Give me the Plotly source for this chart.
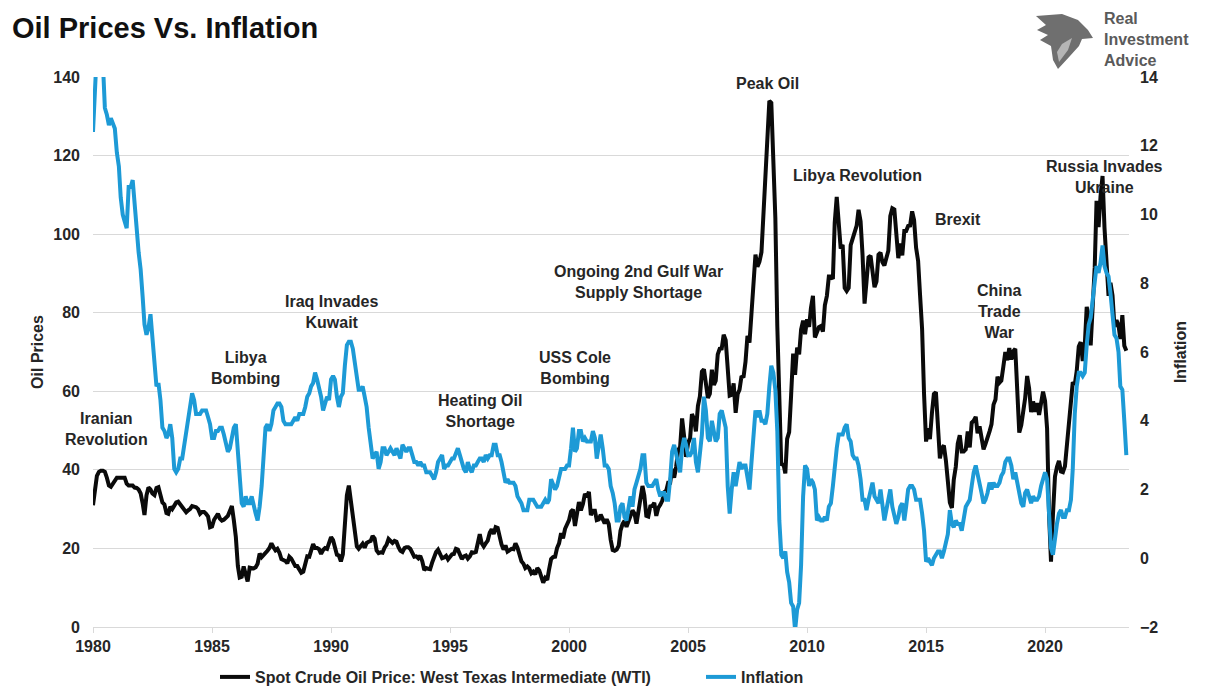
import pandas as pd
import plotly.graph_objects as go

# ---------------- DATA (monthly, Jan 1980 - Jun 2023) ----------------
start_month = "1980-01-01"

wti_price = [
    31.0, 35.0, 38.5, 39.5, 39.8, 39.8, 39.5, 38.0, 36.0, 35.7, 36.5, 37.5,   # 1980
    38.0, 38.0, 38.0, 38.0, 38.0, 36.5, 36.0, 36.0, 36.0, 35.5, 35.4, 35.0,   # 1981
    34.0, 31.5, 28.5, 33.5, 35.5, 35.0, 34.0, 33.6, 35.4, 35.6, 34.0, 31.7,   # 1982
    31.2, 29.0, 28.8, 30.6, 30.0, 31.0, 31.7, 31.9, 31.1, 30.4, 29.8, 29.2,   # 1983
    29.7, 30.1, 30.8, 30.6, 30.5, 30.0, 28.8, 29.3, 29.3, 28.8, 28.1, 25.4,   # 1984
    25.6, 27.3, 28.2, 28.8, 27.6, 27.1, 27.3, 27.8, 28.3, 29.5, 30.8, 27.2,   # 1985
    22.9, 15.5, 12.6, 12.8, 15.4, 13.4, 11.6, 15.1, 14.9, 14.9, 15.2, 16.1,   # 1986
    18.7, 17.8, 18.3, 18.7, 19.4, 20.1, 21.3, 20.3, 19.5, 19.9, 18.9, 17.3,   # 1987
    17.1, 16.8, 16.2, 17.9, 17.4, 16.5, 15.5, 15.5, 14.5, 13.8, 14.1, 16.4,   # 1988
    18.0, 17.9, 19.5, 21.1, 20.1, 20.1, 19.8, 18.6, 19.6, 20.1, 19.9, 21.1,   # 1989
    22.9, 22.1, 20.4, 18.4, 18.2, 16.7, 18.5, 27.3, 33.5, 36.0, 32.3, 27.3,   # 1990
    25.2, 20.5, 19.9, 20.8, 21.2, 20.2, 21.4, 21.7, 21.9, 23.2, 22.5, 19.5,   # 1991
    18.8, 19.0, 18.9, 20.2, 20.9, 22.4, 21.8, 21.4, 21.9, 21.7, 20.3, 19.4,   # 1992
    19.1, 20.1, 20.3, 20.3, 19.9, 19.1, 17.9, 18.0, 17.5, 18.1, 16.7, 14.5,   # 1993
    15.0, 14.8, 14.7, 16.4, 17.9, 19.1, 19.7, 18.4, 17.5, 17.7, 18.1, 17.2,   # 1994
    18.0, 18.5, 18.6, 19.9, 19.7, 18.4, 17.3, 18.0, 18.2, 17.4, 18.0, 19.0,   # 1995
    18.9, 19.1, 21.4, 23.6, 21.3, 20.5, 21.3, 22.0, 24.0, 24.9, 23.7, 25.4,   # 1996
    25.2, 22.2, 21.0, 19.7, 20.8, 19.2, 19.6, 19.9, 19.8, 21.3, 20.2, 18.3,   # 1997
    16.7, 16.1, 15.0, 15.4, 14.9, 13.7, 14.1, 13.4, 15.0, 14.4, 12.9, 11.3,   # 1998
    12.5, 12.0, 14.7, 17.3, 17.8, 17.9, 20.1, 21.3, 23.9, 22.6, 25.0, 26.1,   # 1999
    27.2, 29.4, 29.9, 25.7, 28.8, 31.8, 29.7, 31.3, 33.9, 33.1, 34.4, 28.5,   # 2000
    29.6, 29.6, 27.2, 27.4, 28.6, 27.6, 26.4, 27.4, 26.2, 22.2, 19.6, 19.4,   # 2001
    19.7, 20.7, 24.5, 26.2, 27.0, 25.5, 26.9, 28.4, 29.7, 28.9, 26.3, 29.4,   # 2002
    32.9, 35.9, 33.5, 28.3, 28.1, 30.7, 30.8, 31.6, 28.3, 30.3, 31.1, 32.1,   # 2003
    34.3, 34.7, 36.7, 36.7, 40.3, 38.0, 40.7, 44.9, 45.9, 53.1, 48.5, 43.3,   # 2004
    46.8, 48.1, 54.2, 53.0, 49.8, 56.3, 58.7, 65.0, 65.6, 62.4, 58.3, 59.4,   # 2005
    65.5, 61.6, 62.7, 69.4, 70.8, 70.9, 74.4, 73.0, 63.8, 58.9, 59.1, 62.0,   # 2006
    54.5, 59.3, 60.4, 63.9, 63.5, 67.5, 74.1, 72.4, 79.9, 85.8, 94.8, 91.7,   # 2007
    93.0, 95.4, 105.5, 112.6, 125.4, 133.9, 133.4, 116.7, 104.1, 76.6, 57.3, 41.1,  # 2008
    41.7, 39.1, 47.9, 49.6, 59.0, 69.6, 64.2, 71.1, 69.4, 75.7, 78.0, 74.5,   # 2009
    78.3, 76.4, 81.2, 84.3, 73.7, 75.3, 76.3, 76.6, 75.2, 81.9, 84.3, 89.2,   # 2010
    89.2, 88.6, 102.9, 109.5, 100.9, 96.3, 97.3, 86.3, 85.5, 86.3, 97.2, 98.6,  # 2011
    100.3, 102.2, 106.2, 103.3, 94.7, 82.3, 87.9, 94.1, 94.5, 89.5, 86.5, 87.9,  # 2012
    94.8, 95.3, 92.9, 92.0, 94.5, 95.8, 104.6, 106.6, 106.3, 100.5, 93.9, 97.6,  # 2013
    94.6, 100.8, 100.8, 102.1, 102.2, 105.8, 103.6, 96.5, 93.2, 84.4, 75.8, 59.3,  # 2014
    47.2, 50.6, 47.8, 54.5, 59.3, 59.8, 50.9, 42.9, 45.5, 46.2, 42.4, 37.2,   # 2015
    31.7, 30.3, 37.5, 40.8, 46.7, 48.8, 44.7, 44.7, 45.2, 49.8, 45.7, 52.0,   # 2016
    52.5, 53.5, 49.3, 51.1, 48.5, 45.2, 46.6, 48.0, 49.8, 51.6, 56.6, 57.9,   # 2017
    63.7, 62.2, 62.7, 66.3, 70.0, 67.9, 71.0, 68.1, 70.2, 70.8, 57.0, 49.5,   # 2018
    51.4, 55.0, 58.2, 63.9, 60.8, 54.7, 57.4, 54.8, 57.0, 54.0, 57.0, 59.9,   # 2019
    57.5, 50.5, 29.2, 16.6, 28.6, 38.3, 40.7, 42.3, 39.6, 39.4, 40.9, 47.0,   # 2020
    52.0, 59.0, 62.3, 61.7, 65.2, 71.4, 72.5, 67.7, 71.6, 81.5, 79.2, 71.7,   # 2021
    83.2, 91.6, 108.5, 101.8, 109.6, 114.8, 101.6, 93.7, 84.3, 87.6, 84.4, 76.4,  # 2022
    78.1, 76.8, 73.3, 79.4, 71.6, 70.3,                                        # 2023
]

cpi_inflation = [
    12.4, 14.2, 14.8, 14.7, 14.4, 14.4, 13.1, 12.9, 12.6, 12.8, 12.6, 12.5,   # 1980
    11.8, 11.4, 10.5, 10.0, 9.8, 9.6, 10.8, 10.8, 11.0, 10.1, 9.6, 8.9,       # 1981
    8.4, 7.6, 6.8, 6.5, 6.7, 7.1, 6.4, 5.9, 5.0, 5.1, 4.6, 3.8,               # 1982
    3.7, 3.5, 3.6, 3.9, 3.5, 2.6, 2.5, 2.6, 2.9, 2.9, 3.3, 3.8,               # 1983
    4.2, 4.6, 4.8, 4.6, 4.2, 4.2, 4.2, 4.3, 4.3, 4.3, 4.1, 3.9,               # 1984
    3.5, 3.5, 3.7, 3.7, 3.8, 3.8, 3.6, 3.3, 3.1, 3.2, 3.5, 3.8,               # 1985
    3.9, 3.1, 2.2, 1.6, 1.5, 1.8, 1.6, 1.6, 1.8, 1.5, 1.3, 1.1,               # 1986
    1.5, 2.1, 3.0, 3.8, 3.9, 3.7, 3.9, 4.3, 4.4, 4.5, 4.5, 4.4,               # 1987
    4.0, 3.9, 3.9, 3.9, 3.9, 4.0, 4.1, 4.0, 4.2, 4.2, 4.2, 4.4,               # 1988
    4.7, 4.8, 5.0, 5.1, 5.4, 5.2, 5.0, 4.7, 4.3, 4.5, 4.7, 4.6,               # 1989
    5.2, 5.3, 5.2, 4.7, 4.4, 4.7, 4.8, 5.6, 6.2, 6.3, 6.3, 6.1,               # 1990
    5.7, 5.3, 4.9, 4.9, 5.0, 4.7, 4.4, 3.8, 3.4, 2.9, 3.0, 3.1,               # 1991
    2.6, 2.8, 3.2, 3.2, 3.0, 3.1, 3.2, 3.1, 3.0, 3.2, 3.0, 2.9,               # 1992
    3.3, 3.2, 3.1, 3.2, 3.2, 3.0, 2.8, 2.8, 2.7, 2.8, 2.7, 2.7,               # 1993
    2.5, 2.5, 2.5, 2.4, 2.3, 2.5, 2.8, 2.9, 3.0, 2.6, 2.7, 2.7,               # 1994
    2.8, 2.9, 2.9, 3.1, 3.2, 3.0, 2.8, 2.6, 2.5, 2.8, 2.6, 2.5,               # 1995
    2.7, 2.7, 2.8, 2.9, 2.9, 2.8, 3.0, 2.9, 3.0, 3.0, 3.3, 3.3,               # 1996
    3.0, 3.0, 2.8, 2.5, 2.2, 2.3, 2.2, 2.2, 2.2, 2.1, 1.8, 1.7,               # 1997
    1.6, 1.4, 1.4, 1.4, 1.7, 1.7, 1.7, 1.6, 1.5, 1.5, 1.5, 1.6,               # 1998
    1.7, 1.6, 1.7, 2.3, 2.1, 2.0, 2.1, 2.3, 2.6, 2.6, 2.6, 2.7,               # 1999
    2.7, 3.2, 3.8, 3.1, 3.2, 3.7, 3.7, 3.4, 3.5, 3.4, 3.4, 3.4,               # 2000
    3.7, 3.5, 2.9, 3.3, 3.6, 3.2, 2.7, 2.7, 2.6, 2.1, 1.9, 1.6,               # 2001
    1.1, 1.1, 1.5, 1.6, 1.2, 1.1, 1.5, 1.8, 1.5, 2.0, 2.2, 2.4,               # 2002
    2.6, 3.0, 3.0, 2.2, 2.1, 2.1, 2.1, 2.2, 2.3, 2.0, 1.8, 1.9,               # 2003
    1.9, 1.7, 1.7, 2.3, 3.1, 3.3, 3.0, 2.7, 2.5, 3.2, 3.5, 3.3,               # 2004
    3.0, 3.0, 3.1, 3.5, 2.8, 2.5, 3.2, 3.6, 4.7, 4.3, 3.5, 3.4,               # 2005
    4.0, 3.6, 3.4, 3.5, 4.2, 4.3, 4.1, 3.8, 2.1, 1.3, 2.0, 2.5,               # 2006
    2.1, 2.4, 2.8, 2.6, 2.7, 2.7, 2.4, 2.0, 2.8, 3.5, 4.3, 4.1,               # 2007
    4.3, 4.0, 4.0, 3.9, 4.2, 5.0, 5.6, 5.4, 4.9, 3.7, 1.1, 0.1,               # 2008
    0.0, 0.2, -0.4, -0.7, -1.3, -1.4, -2.1, -1.5, -1.3, -0.2, 1.8, 2.7,       # 2009
    2.6, 2.1, 2.3, 2.2, 2.0, 1.1, 1.2, 1.1, 1.1, 1.2, 1.1, 1.5,               # 2010
    1.6, 2.1, 2.7, 3.2, 3.6, 3.6, 3.6, 3.8, 3.9, 3.5, 3.4, 3.0,               # 2011
    2.9, 2.9, 2.7, 2.3, 1.7, 1.7, 1.4, 1.7, 2.0, 2.2, 1.8, 1.7,               # 2012
    1.6, 2.0, 1.5, 1.1, 1.4, 1.8, 2.0, 1.5, 1.2, 1.0, 1.2, 1.5,               # 2013
    1.6, 1.1, 1.5, 2.0, 2.1, 2.1, 2.0, 1.7, 1.7, 1.7, 1.3, 0.8,               # 2014
    -0.1, 0.0, -0.1, -0.2, 0.0, 0.1, 0.2, 0.2, 0.0, 0.2, 0.5, 0.7,            # 2015
    1.4, 1.0, 0.9, 1.1, 1.0, 1.0, 0.8, 1.1, 1.5, 1.6, 1.7, 2.1,               # 2016
    2.5, 2.7, 2.4, 2.2, 1.9, 1.6, 1.7, 1.9, 2.2, 2.0, 2.2, 2.1,               # 2017
    2.1, 2.2, 2.4, 2.5, 2.8, 2.9, 2.9, 2.7, 2.3, 2.5, 2.2, 1.9,               # 2018
    1.6, 1.5, 1.9, 2.0, 1.8, 1.6, 1.8, 1.7, 1.7, 1.8, 2.1, 2.3,               # 2019
    2.5, 2.3, 1.5, 0.3, 0.1, 0.6, 1.0, 1.3, 1.4, 1.2, 1.2, 1.4,               # 2020
    1.4, 1.7, 2.6, 4.2, 5.0, 5.4, 5.4, 5.3, 5.4, 6.2, 6.8, 7.0,               # 2021
    7.5, 7.9, 8.5, 8.3, 8.6, 9.1, 8.5, 8.3, 8.2, 7.7, 7.1, 6.5,               # 2022
    6.4, 6.0, 5.0, 4.9, 4.0, 3.0,                                             # 2023
]

series_names = ["Spot Crude Oil Price: West Texas Intermediate (WTI)", "Inflation"]
event_labels = [
    "Iranian<br>Revolution", "Libya<br>Bombing", "Iraq Invades<br>Kuwait",
    "Heating Oil<br>Shortage", "USS Cole<br>Bombing",
    "Ongoing 2nd Gulf War<br>Supply Shortage", "Peak Oil", "Libya Revolution",
    "Brexit", "China<br>Trade<br>War", "Russia Invades<br>Ukraine",
]
oil_ticks = [0, 20, 40, 60, 80, 100, 120, 140]
infl_ticks = [-2, 0, 2, 4, 6, 8, 10, 12, 14]

# ---------------- LAYOUT GEOMETRY ----------------
# the page places the figure 8 px in from the top-left corner
OFF = 8
W, H = 1218 - OFF, 693 - OFF
PLOT_L, PLOT_R, PLOT_T, PLOT_B = 93, 1129, 77, 627          # page pixels
L, T = PLOT_L - OFF, PLOT_T - OFF
R, B = W - (PLOT_R - OFF), H - (PLOT_B - OFF)
PW, PH = PLOT_R - PLOT_L, PLOT_B - PLOT_T

def px(x):
    return (x - PLOT_L) / PW

def py(y):
    return (PLOT_B - y) / PH

# label positions (page-pixel centres) for the event labels
event_pos = [(106, 429), (245, 368), (331, 312), (480, 411), (575, 368),
             (638, 282), (767, 84), (857, 175), (958, 219), (999, 311),
             (1104, 177)]

dates = pd.date_range(start_month, periods=len(wti_price), freq="MS")

FONT = "Arial, Liberation Sans, sans-serif"
TXT = "#262626"
BLUE = "#1d9ad6"

fig = go.Figure()
fig.add_trace(go.Scatter(x=dates, y=wti_price, name=series_names[0], mode="lines",
                         line=dict(color="#0a0a0a", width=4), yaxis="y"))
fig.add_trace(go.Scatter(x=dates[:len(cpi_inflation)], y=cpi_inflation, name=series_names[1],
                         mode="lines", line=dict(color=BLUE, width=4), yaxis="y2"))

annotations = []
for lab, (ax_, ay_) in zip(event_labels, event_pos):
    annotations.append(dict(text=lab, xref="paper", yref="paper", x=px(ax_), y=py(ay_),
                            xanchor="center", yanchor="middle", showarrow=False,
                            font=dict(family=FONT, size=16, color=TXT, weight="bold")))

# logo text
annotations.append(dict(text="Real<br>Investment<br>Advice", xref="paper", yref="paper",
                        x=px(1102), y=py(39), xanchor="left", yanchor="middle", align="left",
                        showarrow=False,
                        font=dict(family=FONT, size=16, color="#5a5a5a", weight="bold")))

def path_from(points):
    return "M " + " L ".join(f"{px(a):.5f},{py(b):.5f}" for a, b in points) + " Z"

eagle = [(1036, 16), (1062, 14), (1078, 20), (1088, 30), (1093, 38), (1082, 39),
         (1079, 46), (1070, 56), (1058, 69), (1053, 60), (1051, 46), (1040, 40),
         (1048, 35), (1037, 30), (1046, 25)]
eagle_inner = [(1062, 44), (1072, 38), (1068, 50), (1059, 62), (1057, 52)]

shapes = [
    dict(type="path", xref="paper", yref="paper", path=path_from(eagle),
         fillcolor="#6f6f6f", line=dict(width=0), layer="above"),
    dict(type="path", xref="paper", yref="paper", path=path_from(eagle_inner),
         fillcolor="#b5b5b5", line=dict(width=0), layer="above"),
]

fig.update_layout(
    width=W, height=H,
    margin=dict(l=L, r=R, t=T, b=B, pad=0, autoexpand=False),
    paper_bgcolor="white", plot_bgcolor="white",
    font=dict(family=FONT, size=16, color=TXT),
    title=dict(text="Oil Prices Vs. Inflation", x=(12 - OFF) / W, xref="container",
               xanchor="left", y=1 - (28 - OFF) / H, yref="container", yanchor="middle",
               font=dict(family=FONT, size=29, color="#111111", weight="bold")),
    showlegend=True,
    legend=dict(orientation="h", xref="container", yref="container",
                x=(215 - OFF) / W, xanchor="left", y=1 - (677 - OFF) / H, yanchor="middle",
                font=dict(family=FONT, size=16, color=TXT, weight="bold"),
                bgcolor="rgba(0,0,0,0)", entrywidth=441, entrywidthmode="pixels"),
    xaxis=dict(type="date", range=["1980-01-01", "2023-07-12"],
               tick0="1980-01-01", dtick="M60", tickformat="%Y",
               showgrid=False, zeroline=False, showline=True, linecolor="#d9d9d9", linewidth=1,
               ticks="outside", ticklen=5, tickcolor="#d9d9d9",
               tickfont=dict(family=FONT, size=16, color=TXT, weight="bold")),
    yaxis=dict(range=[0, 140], tickvals=oil_ticks, showgrid=True, gridcolor="#d9d9d9",
               gridwidth=1, zeroline=False, showline=False, ticks="",
               ticklabelstandoff=12,
               tickfont=dict(family=FONT, size=16, color=TXT, weight="bold"),
               title=dict(text="Oil Prices", standoff=5,
                          font=dict(family=FONT, size=16, color=TXT, weight="bold"))),
    yaxis2=dict(range=[-2, 14], tickvals=infl_ticks, overlaying="y", side="right",
                showgrid=False, zeroline=False, showline=False, ticks="",
                ticklabelstandoff=10,
                tickfont=dict(family=FONT, size=16, color=TXT, weight="bold"),
                title=dict(text="Inflation", standoff=17,
                           font=dict(family=FONT, size=16, color=TXT, weight="bold"))),
    annotations=annotations,
    shapes=shapes,
)

fig.write_html("out.html")
